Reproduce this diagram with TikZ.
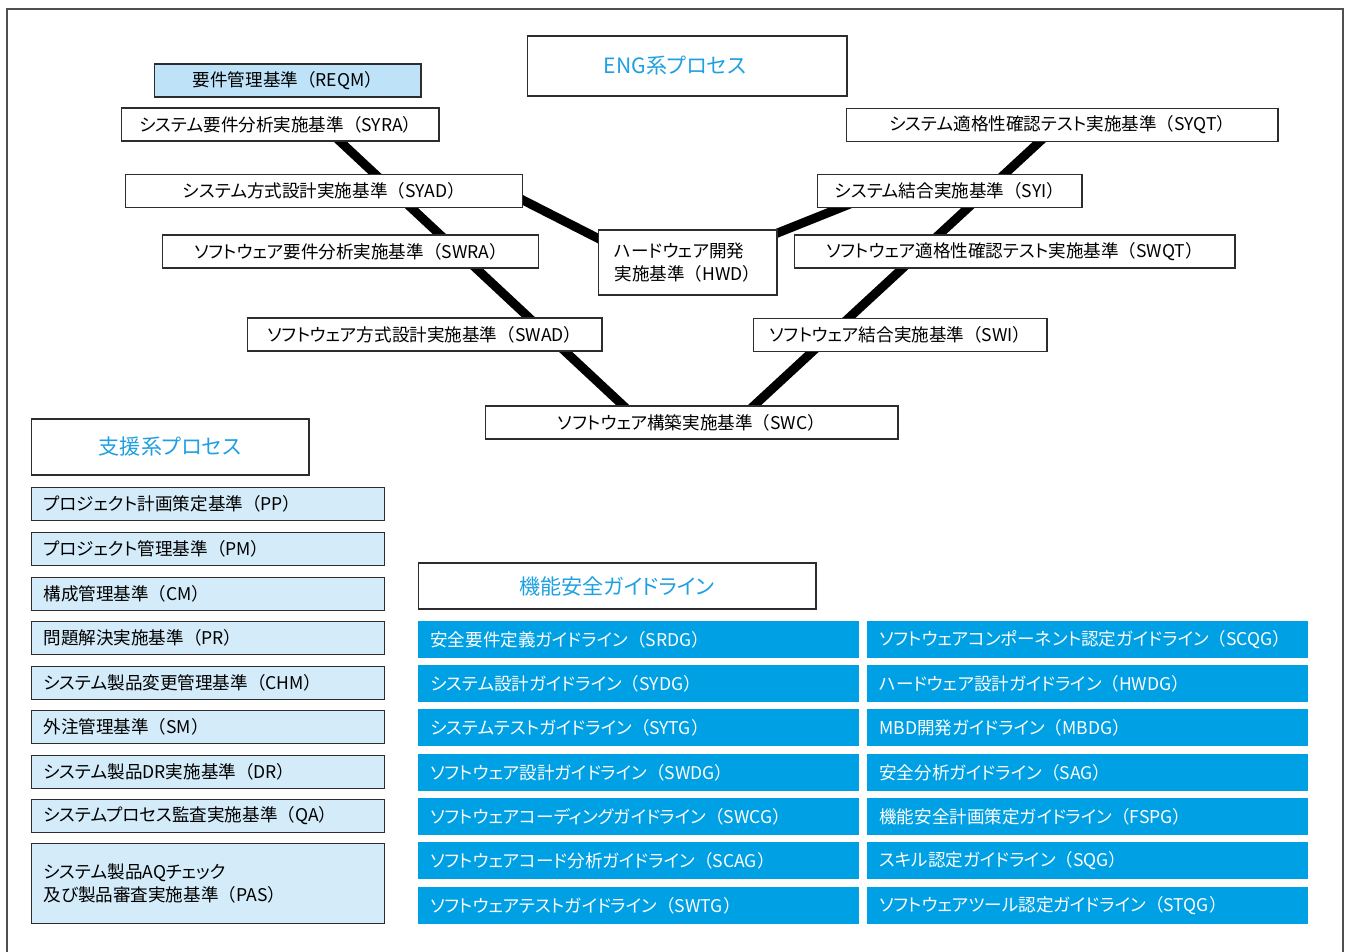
\documentclass[tikz,border=0pt]{standalone}
\usepackage{fontspec}
\setmainfont[RawFeature=+palt]{Noto Sans CJK JP}
\newfontfamily\fwfont{Noto Sans CJK JP}
\usepackage{tikz}
\usetikzlibrary{backgrounds}
\definecolor{boxline}{RGB}{45,45,45}
\definecolor{framecol}{RGB}{80,80,80}
\definecolor{reqmfill}{RGB}{190,227,248}
\definecolor{supfill}{RGB}{212,235,249}
\definecolor{fsblue}{RGB}{0,160,228}
\definecolor{headblue}{RGB}{30,160,226}
\newcommand{\boxfont}{\fontsize{10}{13}\selectfont}
\newcommand{\headfont}{\fontsize{12}{14}\selectfont}
\newcommand{\lp}{{\fwfont （}}
\newcommand{\rp}{{\fwfont ）}}

\begin{document}
\begin{tikzpicture}[x=0.02cm,y=-0.02cm,
  vbox/.style={draw=boxline, line width=0.6pt, fill=white, inner sep=0pt, minimum height=0.66cm, font=\boxfont},
  headbox/.style={draw=boxline, line width=0.6pt, fill=white, inner sep=0pt, text=headblue, font=\headfont},
  supbox/.style={draw=boxline, line width=0.6pt, fill=supfill, anchor=north west, inner xsep=0.24cm, inner ysep=0pt, text width=6.58cm, minimum height=0.66cm, align=left, font=\boxfont},
  fsbox/.style={fill=fsblue, text=white, anchor=north west, inner xsep=0.24cm, inner ysep=0pt, text width=8.34cm, minimum height=0.74cm, align=left, font=\boxfont},
  vline/.style={line width=0.18cm}]
    \useasboundingbox (0,0) rectangle (1348,952);
    \draw[framecol, line width=0.8pt] (7,952) -- (7,9) -- (1343,9) -- (1343,952);

    \node[headbox, minimum width=6.4cm, minimum height=1.2cm] (eng) at (687,66) {ENG系プロセス\kern0.48cm};
    \node[vbox, fill=reqmfill, minimum width=5.34cm] (reqm) at (287.5,80.5) {要件管理基準\lp REQM\rp};
    \node[vbox, minimum width=6.36cm] (syra) at (280,124.5) {システム要件分析実施基準\lp SYRA\rp};
    \node[vbox, minimum width=7.96cm] (syad) at (324,191) {システム方式設計実施基準\lp SYAD\rp};
    \node[vbox, minimum width=7.54cm] (swra) at (350.5,251.5) {ソフトウェア要件分析実施基準\lp SWRA\rp};
    \node[vbox, minimum width=7.10cm] (swad) at (424.5,334.5) {ソフトウェア方式設計実施基準\lp SWAD\rp};
    \node[vbox, minimum width=8.26cm] (swc) at (691.5,422.5) {ソフトウェア構築実施基準\lp SWC\rp};
    \node[vbox, minimum width=3.58cm, minimum height=1.3cm, align=left] (hwd) at (687.5,262.5) {ハードウェア開発\\実施基準\lp HWD\rp};
    \node[vbox, minimum width=8.64cm] (syqt) at (1062,125) {システム適格性確認テスト実施基準\lp SYQT\rp};
    \node[vbox, minimum width=5.30cm] (syi) at (949.5,191) {システム結合実施基準\lp SYI\rp};
    \node[vbox, minimum width=8.82cm] (swqt) at (1014.5,251.5) {ソフトウェア適格性確認テスト実施基準\lp SWQT\rp};
    \node[vbox, minimum width=5.88cm] (swi) at (900,335) {ソフトウェア結合実施基準\lp SWI\rp};

    \begin{scope}[on background layer]
    \coordinate (vlt) at (331,133);
    \coordinate (vlb) at (644,425);
    \coordinate (vrt) at (1049,133);
    \coordinate (vrb) at (733,425);
    \coordinate (hlt) at (505,191);
    \coordinate (hlb) at (615,247);
    \coordinate (hrb) at (765,238);
    \coordinate (hrt) at (860,200);
    \draw[vline] (vlt) -- (vlb);
    \draw[vline] (vrt) -- (vrb);
    \draw[vline] (hlt) -- (hlb);
    \draw[vline] (hrb) -- (hrt);
    \end{scope}

    \node[headbox, minimum width=5.56cm, minimum height=1.12cm] (sup) at (170,447) {支援系プロセス};
    \node[supbox] (pp) at (31,487) {プロジェクト計画策定基準\lp PP\rp};
    \node[supbox] (pm) at (31,532) {プロジェクト管理基準\lp PM\rp};
    \node[supbox] (cm) at (31,577) {構成管理基準\lp CM\rp};
    \node[supbox] (pr) at (31,621) {問題解決実施基準\lp PR\rp};
    \node[supbox] (chm) at (31,666) {システム製品変更管理基準\lp CHM\rp};
    \node[supbox] (sm) at (31,710) {外注管理基準\lp SM\rp};
    \node[supbox] (dr) at (31,755) {システム製品DR実施基準\lp DR\rp};
    \node[supbox] (qa) at (31,799) {システムプロセス監査実施基準\lp QA\rp};
    \node[supbox, minimum height=1.6cm] (pas) at (31,843) {システム製品AQチェック\\及び製品審査実施基準\lp PAS\rp};

    \node[headbox, minimum width=7.96cm, minimum height=0.92cm] (fs) at (617,586) {機能安全ガイドライン};
    \node[fsbox] (srdg) at (418,621) {安全要件定義ガイドライン\lp SRDG\rp};
    \node[fsbox] (sydg) at (418,665) {システム設計ガイドライン\lp SYDG\rp};
    \node[fsbox] (sytg) at (418,709) {システムテストガイドライン\lp SYTG\rp};
    \node[fsbox] (swdg) at (418,754) {ソフトウェア設計ガイドライン\lp SWDG\rp};
    \node[fsbox] (swcg) at (418,798) {ソフトウェアコーディングガイドライン\lp SWCG\rp};
    \node[fsbox] (scag) at (418,842) {ソフトウェアコード分析ガイドライン\lp SCAG\rp};
    \node[fsbox] (swtg) at (418,887) {ソフトウェアテストガイドライン\lp SWTG\rp};
    \node[fsbox] (scqg) at (867,621) {ソフトウェアコンポーネント認定ガイドライン\lp SCQG\rp};
    \node[fsbox] (hwdg) at (867,665) {ハードウェア設計ガイドライン\lp HWDG\rp};
    \node[fsbox] (mbdg) at (867,709) {MBD開発ガイドライン\lp MBDG\rp};
    \node[fsbox] (sag) at (867,754) {安全分析ガイドライン\lp SAG\rp};
    \node[fsbox] (fspg) at (867,798) {機能安全計画策定ガイドライン\lp FSPG\rp};
    \node[fsbox] (sqg) at (867,842) {スキル認定ガイドライン\lp SQG\rp};
    \node[fsbox] (stqg) at (867,887) {ソフトウェアツール認定ガイドライン\lp STQG\rp};
\end{tikzpicture}
\end{document}
